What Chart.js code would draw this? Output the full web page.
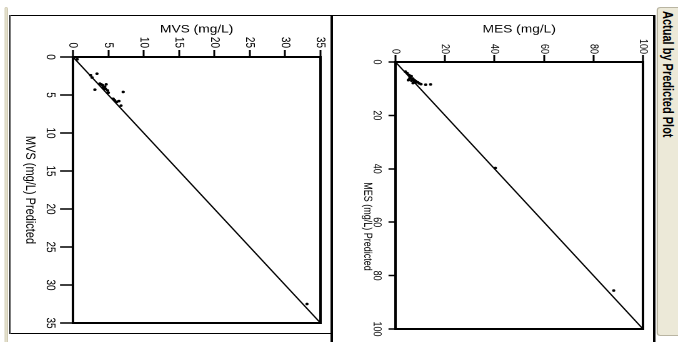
<!DOCTYPE html>
<html>
<head>
<meta charset="utf-8">
<script src="https://cdn.jsdelivr.net/npm/chart.js@4.4.0/dist/chart.umd.min.js"></script>
<style>
  html, body { margin: 0; padding: 0; background: #fff; overflow: hidden; }
  body { width: 678px; height: 342px; position: relative; }
  /* la page est dessinée debout puis tournée d'un quart de tour comme la capture */
  #page { position: absolute; left: 0; top: 0; width: 342px; height: 542.4px;
          transform-origin: 0 0; transform: translate(678px, 0) rotate(90deg) scale(1, 1.25); }
  .trait { position: absolute; background: #000; }
  #bandeau { position: absolute; left: 7px; top: -4px; width: 329px; height: 21px;
             background: #ECE9D8; border: 1px solid #B9B5A2; border-radius: 0 0 3px 3px;
             font: bold 11px "Liberation Sans", Arial, sans-serif; color: #000;
             line-height: 13px; padding: 5px 0 0 3px; box-sizing: border-box; }
  #barre { position: absolute; left: 7px; top: 536px; width: 335px; height: 3.4px;
           background: #E6E2CE; border: 1px solid #D2CDB6; border-right: none;
           border-radius: 2px 0 0 2px; box-sizing: border-box; }
  .boite { position: absolute; left: 0; width: 342px; }
  canvas { display: block; }
</style>
</head>
<body>
<div id="page">
  <div id="bandeau">Actual by Predicted Plot</div>
  <div class="trait" style="left:15px; top:18.4px; width:327px; height:1.6px;"></div>
  <div class="trait" style="left:15px; top:19.2px; width:1px; height:515.2px;"></div>
  <div class="trait" style="left:15px; top:276px; width:327px; height:1.6px;"></div>
  <div class="trait" style="left:333px; top:276.8px; width:1px; height:257.6px;"></div>
  <div class="trait" style="left:15px; top:534.4px; width:319px; height:0.9px;"></div>
  <div id="barre"></div>
  <div class="boite" style="top:20px; height:256px;"><canvas id="grapheMES" width="342" height="256"></canvas></div>
  <div class="boite" style="top:278px; height:264px;"><canvas id="grapheMVS" width="342" height="264"></canvas></div>
</div>

<script>
// MES : valeurs prédites et mesurées (mg/L)
const mesPredicted = [3.6, 4.2, 4.9, 5.3, 5.6, 6.0, 6.2, 6.6, 6.8, 7.0, 6.9, 7.2, 7.5, 7.7, 7.9, 7.6, 8.0, 8.3, 8.5, 8.4, 6.6, 39.7, 85.6];
const mesActual    = [4.0, 4.8, 5.5, 6.4, 6.0, 5.8, 7.0, 7.3, 5.2, 6.5, 7.8, 8.2, 8.6, 8.0, 7.1, 9.0, 9.6, 10.3, 12.2, 14.2, 5.4, 40.4, 88.2];
// MVS : valeurs prédites et mesurées (mg/L)
const mvsPredicted = [0.3, 2.2, 2.4, 2.7, 4.3, 3.5, 3.6, 3.7, 3.9, 3.6, 4.0, 4.2, 4.4, 4.7, 5.5, 5.7, 5.9, 5.8, 6.4, 4.6, 4.1, 32.5];
const mvsActual    = [0.6, 3.4, 2.5, 2.7, 3.1, 3.8, 4.0, 4.2, 4.5, 4.7, 4.2, 4.6, 4.9, 5.0, 5.7, 5.9, 6.2, 6.5, 6.8, 7.1, 4.4, 33.1];

// graduations et droite y = x
const mesTicks = [0, 20, 40, 60, 80, 100];
const mvsTicks = [0, 5, 10, 15, 20, 25, 30, 35];
const mesFit = [0, 100];
const mvsFit = [0, 35];

const police = '"Liberation Sans", Arial, sans-serif';

// cadre noir autour de la zone de tracé
const cadre = {
  id: 'cadre',
  afterDraw(chart) {
    const { ctx, chartArea: a } = chart;
    ctx.save();
    ctx.strokeStyle = '#000';
    ctx.lineWidth = 2;
    ctx.strokeRect(a.left, a.top, a.right - a.left, a.bottom - a.top);
    ctx.restore();
  }
};

// titre de l'axe x, décalé comme dans la capture
const titreX = {
  id: 'titreX',
  afterDraw(chart, args, opts) {
    const { ctx, chartArea: a } = chart;
    const sx = chart.scales.x;
    ctx.save();
    ctx.fillStyle = '#000';
    ctx.font = opts.size + 'px ' + police;
    ctx.textAlign = 'center';
    ctx.textBaseline = 'middle';
    ctx.fillText(opts.text, (a.left + a.right) / 2 + opts.shift, sx.bottom - opts.size * 0.6);
    ctx.restore();
  }
};

function faireGraphe(id, pred, actual, fit, ticks, cfg) {
  const points = pred.map((p, i) => ({ x: p, y: actual[i] }));
  const droite = fit.map(v => ({ x: v, y: v }));
  return new Chart(document.getElementById(id), {
    type: 'scatter',
    data: {
      datasets: [
        { type: 'line', data: droite, borderColor: '#000', borderWidth: 1.2, pointRadius: 0, fill: false },
        { data: points, backgroundColor: '#000', borderColor: '#000', pointRadius: 1.3, borderWidth: 0 }
      ]
    },
    options: {
      responsive: false,
      animation: false,
      devicePixelRatio: 2,
      layout: { padding: cfg.padding },
      plugins: {
        legend: { display: false }, tooltip: { enabled: false },
        titreX: { text: cfg.xTitle, size: cfg.xTitleSize, shift: cfg.xTitleShift }
      },
      scales: {
        x: {
          type: 'linear', min: fit[0], max: fit[1],
          afterBuildTicks: s => { s.ticks = ticks.map(v => ({ value: v })); },
          afterFit: s => { s.height = cfg.xHeight; },
          grid: { drawOnChartArea: false, drawTicks: true, tickLength: cfg.xTick, tickColor: '#000', tickWidth: 1.5 },
          border: { display: false },
          ticks: { color: '#000', padding: cfg.xPad, maxRotation: 0, autoSkip: false, font: { family: police, size: cfg.tickSize } }
        },
        y: {
          type: 'linear', min: fit[0], max: fit[1],
          afterBuildTicks: s => { s.ticks = ticks.map(v => ({ value: v })); },
          afterFit: s => { s.width = cfg.yWidth; },
          grid: { drawOnChartArea: false, drawTicks: true, tickLength: 7, tickColor: '#000', tickWidth: 1.5 },
          border: { display: false },
          ticks: { color: '#000', padding: cfg.yPad, autoSkip: false, font: { family: police, size: cfg.tickSize } },
          title: { display: true, text: cfg.yTitle, color: '#000', padding: 0, font: { family: police, size: 11 } }
        }
      }
    },
    plugins: [cadre, titreX]
  });
}

faireGraphe('grapheMES', mesPredicted, mesActual, mesFit, mesTicks, {
  padding: { left: 23, top: 8, right: 13, bottom: 22 },
  xHeight: 28, yWidth: 39, xTick: 5.6, xPad: 4, yPad: 1, tickSize: 9,
  xTitle: 'MES (mg/L) Predicted', xTitleSize: 9, xTitleShift: 31, yTitle: 'MES (mg/L)'
});

faireGraphe('grapheMVS', mvsPredicted, mvsActual, mvsFit, mvsTicks, {
  padding: { left: 23, top: 8, right: 19, bottom: 17 },
  xHeight: 41, yWidth: 34, xTick: 10.4, xPad: 2, yPad: 2, tickSize: 10,
  xTitle: 'MVS (mg/L) Predicted', xTitleSize: 11, xTitleShift: 0, yTitle: 'MVS (mg/L)'
});
</script>
</body>
</html>
